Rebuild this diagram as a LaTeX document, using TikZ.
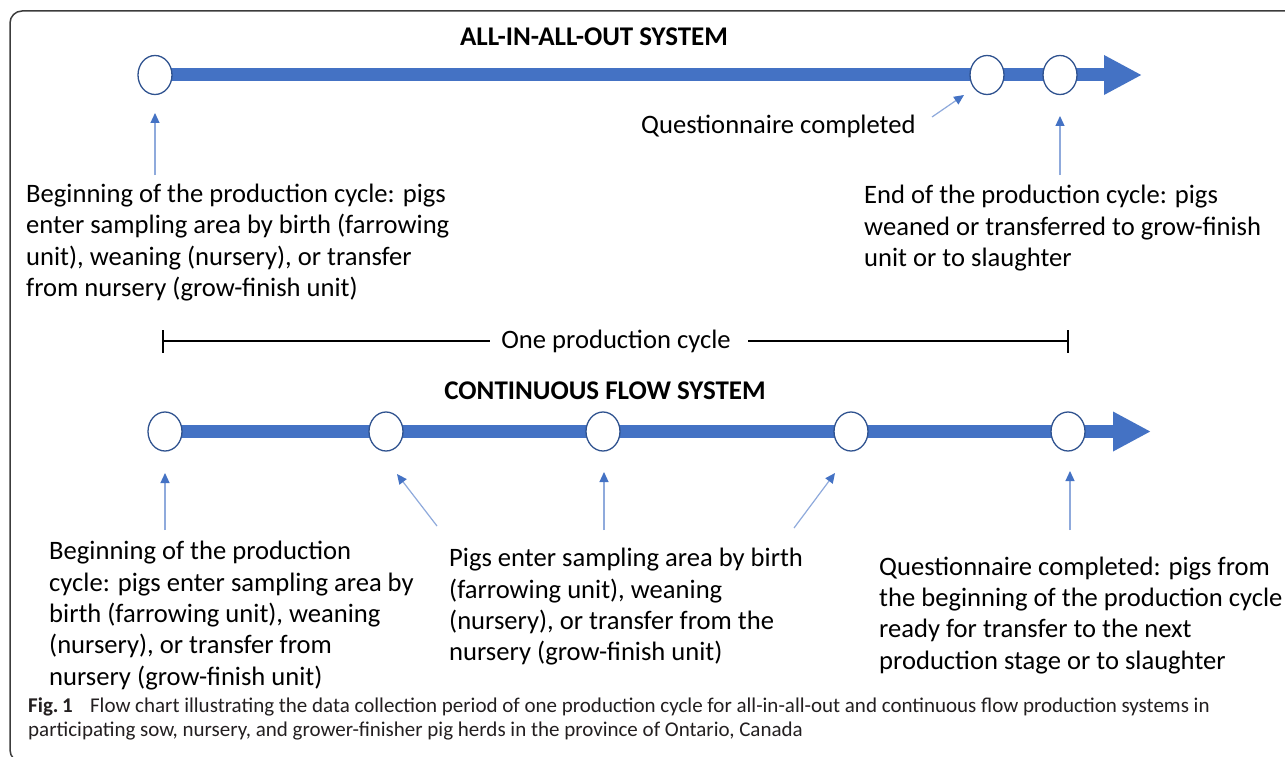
\documentclass[tikz,border=0pt]{standalone}
\usepackage{fontspec}
\setmainfont{Carlito}
\usetikzlibrary{arrows.meta,shapes.geometric,backgrounds}
\definecolor{barblue}{HTML}{4472C4}
\definecolor{ringblue}{HTML}{2F528F}
\definecolor{lightarr}{HTML}{8FAADC}
\definecolor{framegray}{HTML}{3C3C3C}
\definecolor{capgray}{HTML}{231F20}
\begin{document}
\begin{tikzpicture}[x=1pt,y=-1pt,
  stage/.style={ellipse, draw=ringblue, line width=1.3pt, fill=white,
    minimum width=34pt, minimum height=39pt, inner sep=0pt},
  bar/.style={barblue, line width=13pt},
  bararrow/.style={bar, -{Triangle[length=38pt,width=37pt]}},
  pointer/.style={lightarr, line width=1.2pt,
    -{Triangle[length=10pt,width=9pt,color=barblue]}},
  lbl/.style={font=\fontsize{26.6}{31.3}\selectfont, align=left,
    anchor=base west, inner sep=0pt},
  ttl/.style={font=\fontsize{27}{31.4}\selectfont\bfseries, inner sep=0pt, anchor=base},
  spanline/.style={black, line width=2pt},
  captxt/.style={font=\fontsize{21}{24}\selectfont, text=capgray, align=left,
    anchor=base west, inner sep=0pt},
]
\useasboundingbox (0,0) rectangle (1285,757);
\begin{scope}[on background layer]
\fill[white] (0,0) rectangle (1285,757);
\end{scope}
% frame
\draw[framegray, line width=1.5pt, rounded corners=12pt]
  (40,762) -- (10,762) -- (10,11) -- (1300,11);

% ---------- All-in-all-out ----------
\node[ttl] (t1) at (594,45.4) {ALL-IN-ALL-OUT SYSTEM};
\node[stage] (a1) at (155,75) {};
\node[stage] (a2) at (987,75) {};
\node[stage] (a3) at (1060,75) {};
\coordinate (aend) at (1142,75);
\begin{scope}[on background layer]
  \draw[bar] (a1.center) -- (a2.center);
  \draw[bar] (a2.center) -- (a3.center);
  \draw[bararrow] (a3.center) -- (aend);
\end{scope}

\node[lbl] (qc) at (641,134) {Questionnaire completed};
% multi-line nodes: base anchor = baseline of the last line
\node[lbl] (lb1) at (26,296.3) {Beginning of the production cycle: pigs\\enter sampling area by birth (farrowing\\unit), weaning (nursery), or transfer\\from nursery (grow-finish unit)};
\node[lbl] (rb1) at (864,266.3) {End of the production cycle: pigs\\weaned or transferred to grow-finish\\unit or to slaughter};

\coordinate (p1s) at (155,175);
\coordinate (p1e) at (155,113);
\coordinate (p2s) at (932,117);
\coordinate (p2e) at (964,95);
\coordinate (p3s) at (1060,175);
\coordinate (p3e) at (1060,116);
\draw[pointer] (p1s) -- (p1e);
\draw[pointer] (p2s) -- (p2e);
\draw[pointer] (p3s) -- (p3e);

% ---------- span ----------
\node[font=\fontsize{26.6}{31.3}\selectfont, anchor=base, inner sep=0pt] (one) at (616,348) {One production cycle};
\coordinate (sl) at (163,341);
\coordinate (sr) at (1068,341);
\coordinate (slt) at (163,330);
\coordinate (slb) at (163,353);
\coordinate (srt) at (1068,330);
\coordinate (srb) at (1068,353);
\coordinate (gl) at (490,341);
\coordinate (gr) at (748,341);
\draw[spanline] (sl) -- (gl);
\draw[spanline] (gr) -- (sr);
\draw[spanline] (slt) -- (slb);
\draw[spanline] (srt) -- (srb);

% ---------- Continuous flow ----------
\node[ttl] (t2) at (605,399.8) {CONTINUOUS FLOW SYSTEM};
\node[stage] (b1) at (165,431.5) {};
\node[stage] (b2) at (386,431.5) {};
\node[stage] (b3) at (603,431.5) {};
\node[stage] (b4) at (851,431.5) {};
\node[stage] (b5) at (1068,431.5) {};
\coordinate (bend) at (1151,431.5);
\begin{scope}[on background layer]
  \draw[bar] (b1.center) -- (b2.center);
  \draw[bar] (b2.center) -- (b3.center);
  \draw[bar] (b3.center) -- (b4.center);
  \draw[bar] (b4.center) -- (b5.center);
  \draw[bararrow] (b5.center) -- (bend);
\end{scope}

\coordinate (q1s) at (165,530);
\coordinate (q1e) at (165,473);
\coordinate (q2s) at (437,526);
\coordinate (q2e) at (397,474);
\coordinate (q3s) at (604,530);
\coordinate (q3e) at (604,472);
\coordinate (q4s) at (794,528);
\coordinate (q4e) at (835,473);
\coordinate (q5s) at (1070,530);
\coordinate (q5e) at (1070,471);
\draw[pointer] (q1s) -- (q1e);
\draw[pointer] (q2s) -- (q2e);
\draw[pointer] (q3s) -- (q3e);
\draw[pointer] (q4s) -- (q4e);
\draw[pointer] (q5s) -- (q5e);

\node[lbl] (lb2) at (49,685) {Beginning of the production\\cycle: pigs enter sampling area by\\birth (farrowing unit), weaning\\(nursery), or transfer from\\nursery (grow-finish unit)};
\node[lbl] (mb2) at (449,660.6) {Pigs enter sampling area by birth\\(farrowing unit), weaning\\(nursery), or transfer from the\\nursery (grow-finish unit)};
\node[lbl] (rb2) at (879,669) {Questionnaire completed: pigs from\\the beginning of the production cycle\\ready for transfer to the next\\production stage or to slaughter};

% ---------- caption ----------
\node[captxt] (capt) at (28,736) {\textbf{Fig.\,1}\hspace{0.6em} Flow chart illustrating the data collection period of one production cycle for all-in-all-out and continuous flow production systems in\\participating sow, nursery, and grower-finisher pig herds in the province of Ontario, Canada};
\end{tikzpicture}
\end{document}
